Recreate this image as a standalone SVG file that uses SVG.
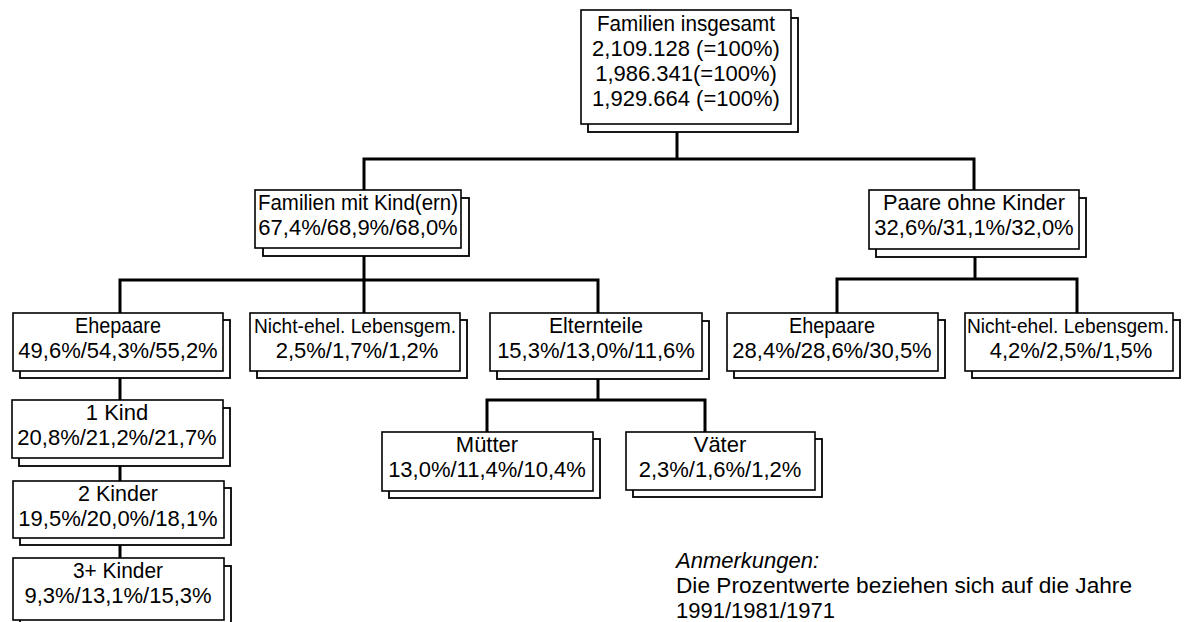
<svg xmlns="http://www.w3.org/2000/svg" width="1186" height="622" viewBox="0 0 1186 622">
<style>
.bx{fill:#fff;stroke:#000;stroke-width:1.6}
.sh{fill:#fff;stroke:#000;stroke-width:1.8}
.t{font-family:"Liberation Sans","Open Sans",sans-serif;font-size:22px;fill:#000;text-anchor:middle}
.s{font-size:20px}
.n{font-family:"Liberation Sans","Open Sans",sans-serif;font-size:22px;fill:#000}
.c{fill:none;stroke:#000;stroke-width:3}
</style>
<rect width="1186" height="622" fill="#fff"/>
<g id="connectors">
<path class="c" d="M677 132 V159"/>
<path class="c" d="M364 190 V159 H974 V190"/>
<path class="c" d="M364 256 V313"/>
<path class="c" d="M120 313 V280 H598 V313"/>
<path class="c" d="M975 257 V279"/>
<path class="c" d="M837 313 V279 H1077 V313"/>
<path class="c" d="M120 378 V400"/>
<path class="c" d="M120 466 V481"/>
<path class="c" d="M120 545 V558"/>
<path class="c" d="M598 379 V400"/>
<path class="c" d="M487 432 V400 H705 V432"/>
</g>
<g id="n-top">
<rect class="sh" x="588" y="18" width="210" height="114"/>
<rect class="bx" x="581" y="10" width="210" height="114"/>
<text class="t" x="686" y="31" textLength="178" lengthAdjust="spacingAndGlyphs">Familien insgesamt</text>
<text class="t" x="686" y="56">2,109.128 (=100%)</text>
<text class="t" x="686" y="81">1,986.341(=100%)</text>
<text class="t" x="686" y="106">1,929.664 (=100%)</text>
</g>
<g id="n-fmk">
<rect class="sh" x="263" y="198" width="206" height="58"/>
<rect class="bx" x="255" y="190" width="206" height="58"/>
<text class="t" x="358" y="210" textLength="200" lengthAdjust="spacingAndGlyphs">Familien mit Kind(ern)</text>
<text class="t" x="358" y="235">67,4%/68,9%/68,0%</text>
</g>
<g id="n-pok">
<rect class="sh" x="876" y="198" width="210" height="59"/>
<rect class="bx" x="869" y="190" width="210" height="59"/>
<text class="t" x="974" y="210" textLength="182" lengthAdjust="spacingAndGlyphs">Paare ohne Kinder</text>
<text class="t" x="974" y="235">32,6%/31,1%/32,0%</text>
</g>
<g id="n-ehe1">
<rect class="sh" x="20" y="320" width="210" height="58"/>
<rect class="bx" x="13" y="313" width="210" height="58"/>
<text class="t" x="118" y="333" textLength="86" lengthAdjust="spacingAndGlyphs">Ehepaare</text>
<text class="t" x="118" y="358">49,6%/54,3%/55,2%</text>
</g>
<g id="n-ne1">
<rect class="sh" x="257" y="320" width="210" height="58"/>
<rect class="bx" x="250" y="313" width="210" height="58"/>
<text class="t s" x="355" y="333" textLength="202" lengthAdjust="spacingAndGlyphs">Nicht-ehel. Lebensgem.</text>
<text class="t" x="357" y="358">2,5%/1,7%/1,2%</text>
</g>
<g id="n-elt">
<rect class="sh" x="497" y="321" width="212" height="58"/>
<rect class="bx" x="490" y="313" width="212" height="58"/>
<text class="t" x="596" y="333" textLength="94" lengthAdjust="spacingAndGlyphs">Elternteile</text>
<text class="t" x="596" y="358">15,3%/13,0%/11,6%</text>
</g>
<g id="n-ehe2">
<rect class="sh" x="734" y="320" width="211" height="58"/>
<rect class="bx" x="727" y="313" width="211" height="58"/>
<text class="t" x="832" y="333" textLength="86" lengthAdjust="spacingAndGlyphs">Ehepaare</text>
<text class="t" x="832" y="358">28,4%/28,6%/30,5%</text>
</g>
<g id="n-ne2">
<rect class="sh" x="972" y="320" width="208" height="58"/>
<rect class="bx" x="965" y="313" width="208" height="58"/>
<text class="t s" x="1068" y="333" textLength="202" lengthAdjust="spacingAndGlyphs">Nicht-ehel. Lebensgem.</text>
<text class="t" x="1071" y="358">4,2%/2,5%/1,5%</text>
</g>
<g id="n-k1">
<rect class="sh" x="19" y="408" width="211" height="58"/>
<rect class="bx" x="12" y="400" width="211" height="58"/>
<text class="t" x="117" y="420">1 Kind</text>
<text class="t" x="117" y="445">20,8%/21,2%/21,7%</text>
</g>
<g id="n-k2">
<rect class="sh" x="20" y="488" width="211" height="57"/>
<rect class="bx" x="13" y="481" width="211" height="57"/>
<text class="t" x="118" y="501" textLength="80" lengthAdjust="spacingAndGlyphs">2 Kinder</text>
<text class="t" x="118" y="526">19,5%/20,0%/18,1%</text>
</g>
<g id="n-k3">
<rect class="sh" x="20" y="566" width="211" height="62"/>
<rect class="bx" x="13" y="558" width="211" height="62"/>
<text class="t" x="118" y="578" textLength="90" lengthAdjust="spacingAndGlyphs">3+ Kinder</text>
<text class="t" x="118" y="603">9,3%/13,1%/15,3%</text>
</g>
<g id="n-mut">
<rect class="sh" x="389" y="439" width="211" height="59"/>
<rect class="bx" x="382" y="432" width="211" height="59"/>
<text class="t" x="487" y="452">Mütter</text>
<text class="t" x="487" y="477">13,0%/11,4%/10,4%</text>
</g>
<g id="n-vat">
<rect class="sh" x="633" y="439" width="189" height="58"/>
<rect class="bx" x="626" y="432" width="189" height="58"/>
<text class="t" x="720" y="452">Väter</text>
<text class="t" x="720" y="477">2,3%/1,6%/1,2%</text>
</g>
<g id="notes">
<text class="n" x="676" y="568" font-style="italic">Anmerkungen:</text>
<text class="n" x="676" y="593" textLength="456" lengthAdjust="spacingAndGlyphs">Die Prozentwerte beziehen sich auf die Jahre</text>
<text class="n" x="676" y="618">1991/1981/1971</text>
</g>
</svg>
